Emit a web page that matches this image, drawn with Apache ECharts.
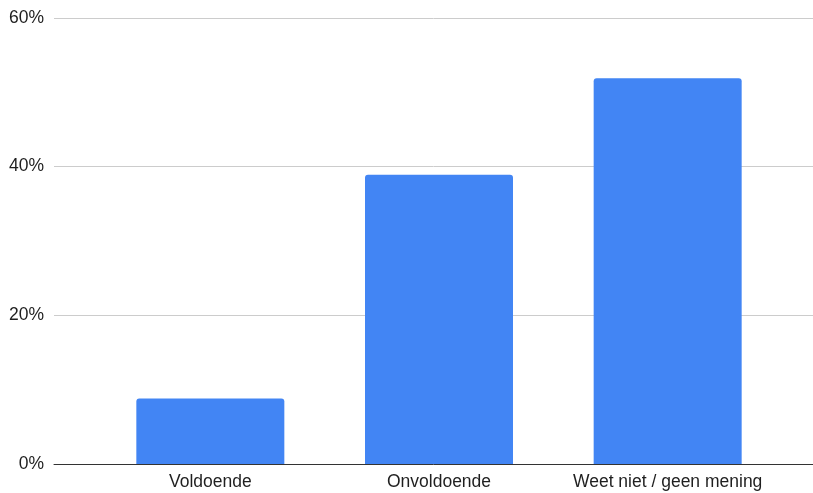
<!DOCTYPE html>
<html>
<head>
<meta charset="utf-8">
<script src="https://cdn.jsdelivr.net/npm/echarts@6/dist/echarts.min.js"></script>
<style>
html,body{margin:0;padding:0;background:#fff;}
#chart{width:813px;height:493px;}
</style>
</head>
<body>
<div id="chart"></div>
<script>
var categories = ["Voldoende", "Onvoldoende", "Weet niet / geen mening"];
var values = [8.8, 38.9, 51.9];
var yTicks = [0, 20, 40, 60];

var chart = echarts.init(document.getElementById('chart'), null, {renderer: 'canvas'});
var font = "'Liberation Sans', Arial, sans-serif";
chart.setOption({
  animation: false,
  grid: [
    {left: 54, right: 0, top: 18, bottom: 29},
    {left: 96, right: 31, top: 18, bottom: 29}
  ],
  xAxis: [
    {type: 'category', gridIndex: 0, data: [''],
      axisLine: {show: true, lineStyle: {color: '#333', width: 1}},
      axisTick: {show: false}, axisLabel: {show: false}},
    {type: 'category', gridIndex: 1, data: categories,
      axisLine: {show: false}, axisTick: {show: false},
      axisLabel: {color: '#1f1f1f', fontSize: 17.5, fontFamily: font, margin: 9, interval: 0, hideOverlap: false}}
  ],
  yAxis: [
    {type: 'value', gridIndex: 0, min: yTicks[0], max: yTicks[yTicks.length-1], interval: 20,
      axisLine: {show: false}, axisTick: {show: false},
      splitLine: {lineStyle: {color: '#ccc', width: 1}},
      axisLabel: {color: '#1f1f1f', fontSize: 17.5, fontFamily: font, margin: 10, formatter: '{value}%'}},
    {type: 'value', gridIndex: 1, min: yTicks[0], max: yTicks[yTicks.length-1], interval: 20,
      show: false}
  ],
  series: [{
    type: 'bar', xAxisIndex: 1, yAxisIndex: 1,
    data: values, barWidth: 148,
    itemStyle: {color: '#4285F4', borderRadius: [3, 3, 0, 0]}
  }]
});
</script>
</body>
</html>
